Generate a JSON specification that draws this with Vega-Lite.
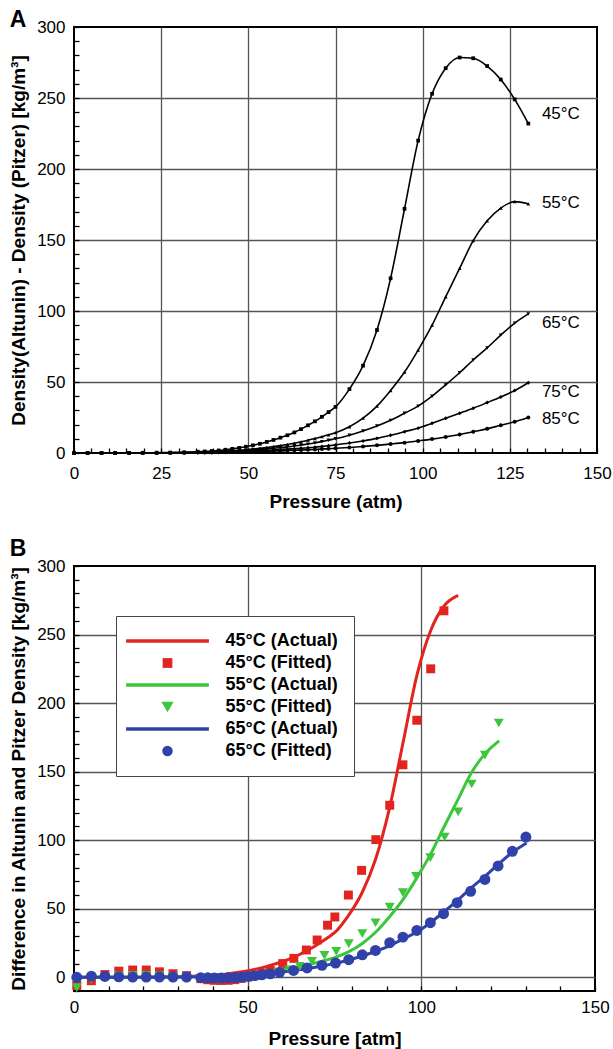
{
  "$schema": "https://vega.github.io/schema/vega-lite/v6.json",
  "padding": {"top": 8, "left": 8, "right": 0, "bottom": 0},
  "background": "white",
  "config": {
    "font": "Liberation Sans",
    "view": {"stroke": "black", "strokeWidth": 2},
    "axis": {
      "labelFont": "Liberation Sans", "labelFontSize": 17, "labelColor": "black",
      "titleFont": "Liberation Sans", "titleFontSize": 19, "titleFontWeight": "bold", "titleColor": "black",
      "domain": false, "tickColor": "black", "tickWidth": 1.3,
      "gridColor": "#555", "gridWidth": 1.3,
      "labelFlush": false, "labelOverlap": false
    },
    "title": {"fontSize": 23, "fontWeight": "bold", "anchor": "start", "frame": "bounds", "color": "black"}
  },
  "datasets": {
    "curves": [
      {"p": 0, "a45": 0, "a55": 0, "a65": 0, "a75": 0, "a85": 0},
      {"p": 3.9, "a45": 0, "a55": 0, "a65": 0, "a75": 0, "a85": 0},
      {"p": 7.9, "a45": 0, "a55": 0, "a65": 0, "a75": 0, "a85": 0},
      {"p": 11.8, "a45": 0, "a55": 0, "a65": 0, "a75": 0, "a85": 0},
      {"p": 15.8, "a45": 0.1, "a55": 0.1, "a65": 0, "a75": 0, "a85": 0},
      {"p": 19.7, "a45": 0.1, "a55": 0.1, "a65": 0.1, "a75": 0.1, "a85": 0.1},
      {"p": 23.7, "a45": 0.2, "a55": 0.1, "a65": 0.1, "a75": 0.1, "a85": 0.1},
      {"p": 27.6, "a45": 0.3, "a55": 0.2, "a65": 0.2, "a75": 0.1, "a85": 0.1},
      {"p": 31.6, "a45": 0.5, "a55": 0.3, "a65": 0.3, "a75": 0.2, "a85": 0.2},
      {"p": 35.5, "a45": 0.9, "a55": 0.5, "a65": 0.4, "a75": 0.3, "a85": 0.3},
      {"p": 37.5, "a45": 1.1, "a55": 0.6, "a65": 0.5, "a75": 0.4, "a85": 0.3},
      {"p": 39.5, "a45": 1.4, "a55": 0.8, "a65": 0.7, "a75": 0.5, "a85": 0.4},
      {"p": 41.5, "a45": 1.8, "a55": 1.0, "a65": 0.9, "a75": 0.6, "a85": 0.5},
      {"p": 43.4, "a45": 2.3, "a55": 1.2, "a65": 1.1, "a75": 0.8, "a85": 0.6},
      {"p": 45.4, "a45": 2.9, "a55": 1.5, "a65": 1.3, "a75": 1.0, "a85": 0.7},
      {"p": 47.4, "a45": 3.6, "a55": 1.9, "a65": 1.6, "a75": 1.1, "a85": 0.8},
      {"p": 49.3, "a45": 4.4, "a55": 2.3, "a65": 1.9, "a75": 1.3, "a85": 0.9},
      {"p": 51.3, "a45": 5.4, "a55": 2.8, "a65": 2.2, "a75": 1.5, "a85": 1.0},
      {"p": 53.3, "a45": 6.5, "a55": 3.3, "a65": 2.6, "a75": 1.7, "a85": 1.2},
      {"p": 55.3, "a45": 7.8, "a55": 3.9, "a65": 2.9, "a75": 1.9, "a85": 1.3},
      {"p": 57.2, "a45": 9.2, "a55": 4.5, "a65": 3.3, "a75": 2.1, "a85": 1.4},
      {"p": 59.2, "a45": 10.8, "a55": 5.2, "a65": 3.8, "a75": 2.4, "a85": 1.6},
      {"p": 61.2, "a45": 12.5, "a55": 6.0, "a65": 4.3, "a75": 2.7, "a85": 1.8},
      {"p": 63.2, "a45": 14.5, "a55": 6.9, "a65": 4.9, "a75": 3.0, "a85": 1.9},
      {"p": 65.1, "a45": 16.8, "a55": 7.9, "a65": 5.6, "a75": 3.3, "a85": 2.1},
      {"p": 67.1, "a45": 19.5, "a55": 9.0, "a65": 6.3, "a75": 3.7, "a85": 2.3},
      {"p": 69.1, "a45": 22.3, "a55": 10.2, "a65": 7.1, "a75": 4.1, "a85": 2.5},
      {"p": 71.1, "a45": 25.5, "a55": 11.5, "a65": 8.0, "a75": 4.6, "a85": 2.8},
      {"p": 73.0, "a45": 28.8, "a55": 12.8, "a65": 9.0, "a75": 5.1, "a85": 3.0},
      {"p": 75.0, "a45": 32.5, "a55": 14.3, "a65": 10.0, "a75": 5.7, "a85": 3.3},
      {"p": 79.0, "a45": 45, "a55": 18.5, "a65": 12.5, "a75": 7.0, "a85": 3.9},
      {"p": 82.9, "a45": 61.5, "a55": 24.5, "a65": 15.5, "a75": 8.5, "a85": 4.6},
      {"p": 86.9, "a45": 86.6, "a55": 33, "a65": 19, "a75": 10.3, "a85": 5.4},
      {"p": 90.8, "a45": 123, "a55": 44, "a65": 23, "a75": 12.5, "a85": 6.3},
      {"p": 94.8, "a45": 172, "a55": 57, "a65": 28, "a75": 15, "a85": 7.3},
      {"p": 98.7, "a45": 220, "a55": 72.5, "a65": 33, "a75": 17.5, "a85": 8.5},
      {"p": 102.7, "a45": 253, "a55": 90, "a65": 40, "a75": 21, "a85": 9.8},
      {"p": 106.6, "a45": 271, "a55": 110, "a65": 48, "a75": 24.5, "a85": 11.3},
      {"p": 110.6, "a45": 278.5, "a55": 130, "a65": 56.5, "a75": 28, "a85": 13},
      {"p": 114.5, "a45": 278, "a55": 149.5, "a65": 65.5, "a75": 31.5, "a85": 15},
      {"p": 118.5, "a45": 272.5, "a55": 163.5, "a65": 74, "a75": 35.5, "a85": 17},
      {"p": 122.4, "a45": 263, "a55": 172.5, "a65": 83, "a75": 39.5, "a85": 19.5},
      {"p": 126.4, "a45": 249, "a55": 177, "a65": 91.5, "a75": 44, "a85": 22},
      {"p": 130.3, "a45": 232, "a55": 175.5, "a65": 98, "a75": 49.5, "a85": 25}
    ],
    "labelsA": [
      {"p": 134.2, "v": 238.7, "t": "45°C"},
      {"p": 134.2, "v": 175.8, "t": "55°C"},
      {"p": 134.2, "v": 91.3, "t": "65°C"},
      {"p": 134.2, "v": 42.7, "t": "75°C"},
      {"p": 134.2, "v": 23.7, "t": "85°C"}
    ],
    "fitted": [
      {"s": "f45", "p": 0.8, "v": -6}, {"s": "f45", "p": 5, "v": -2.5}, {"s": "f45", "p": 8.9, "v": 2},
      {"s": "f45", "p": 12.9, "v": 4.5}, {"s": "f45", "p": 16.9, "v": 5.3}, {"s": "f45", "p": 20.8, "v": 5.3},
      {"s": "f45", "p": 24.6, "v": 4}, {"s": "f45", "p": 28.5, "v": 2.6}, {"s": "f45", "p": 32.4, "v": 1.2},
      {"s": "f45", "p": 36.5, "v": -1}, {"s": "f45", "p": 38.5, "v": -1.8}, {"s": "f45", "p": 40.4, "v": -2.2},
      {"s": "f45", "p": 42.4, "v": -2.3}, {"s": "f45", "p": 44.4, "v": -2.2}, {"s": "f45", "p": 46.3, "v": -1.7},
      {"s": "f45", "p": 48.2, "v": -0.8}, {"s": "f45", "p": 50.2, "v": 0.3}, {"s": "f45", "p": 52.1, "v": 1.5},
      {"s": "f45", "p": 54.1, "v": 3}, {"s": "f45", "p": 56.5, "v": 5}, {"s": "f45", "p": 60.1, "v": 10},
      {"s": "f45", "p": 63.3, "v": 13.8}, {"s": "f45", "p": 66.9, "v": 19.9}, {"s": "f45", "p": 70, "v": 27.2},
      {"s": "f45", "p": 73, "v": 38}, {"s": "f45", "p": 75.1, "v": 44}, {"s": "f45", "p": 79, "v": 60},
      {"s": "f45", "p": 82.8, "v": 78}, {"s": "f45", "p": 86.9, "v": 100.4}, {"s": "f45", "p": 90.9, "v": 125.5},
      {"s": "f45", "p": 94.7, "v": 155}, {"s": "f45", "p": 98.7, "v": 187.5}, {"s": "f45", "p": 102.7, "v": 225},
      {"s": "f45", "p": 106.5, "v": 267.3},
      {"s": "f55", "p": 0.8, "v": -7.5}, {"s": "f55", "p": 5, "v": -1.5}, {"s": "f55", "p": 8.9, "v": 0},
      {"s": "f55", "p": 12.9, "v": 1}, {"s": "f55", "p": 16.9, "v": 1.5}, {"s": "f55", "p": 20.8, "v": 1.5},
      {"s": "f55", "p": 24.6, "v": 1}, {"s": "f55", "p": 28.5, "v": 0.5}, {"s": "f55", "p": 32.4, "v": 0},
      {"s": "f55", "p": 36.5, "v": -1}, {"s": "f55", "p": 38.5, "v": -1.2}, {"s": "f55", "p": 40.4, "v": -1.4},
      {"s": "f55", "p": 42.4, "v": -1.4}, {"s": "f55", "p": 44.4, "v": -1.3}, {"s": "f55", "p": 46.3, "v": -1},
      {"s": "f55", "p": 48.2, "v": -0.6}, {"s": "f55", "p": 50.2, "v": 0}, {"s": "f55", "p": 52.1, "v": 0.6},
      {"s": "f55", "p": 54.1, "v": 1.3}, {"s": "f55", "p": 56.5, "v": 2.5}, {"s": "f55", "p": 59.2, "v": 4},
      {"s": "f55", "p": 62, "v": 5.5}, {"s": "f55", "p": 65, "v": 8}, {"s": "f55", "p": 68.5, "v": 11.6},
      {"s": "f55", "p": 72.1, "v": 16}, {"s": "f55", "p": 75.5, "v": 18.9}, {"s": "f55", "p": 79.1, "v": 24.5},
      {"s": "f55", "p": 83, "v": 31.8}, {"s": "f55", "p": 86.8, "v": 39.8}, {"s": "f55", "p": 90.9, "v": 51.2},
      {"s": "f55", "p": 94.7, "v": 61.7}, {"s": "f55", "p": 98.5, "v": 73.6}, {"s": "f55", "p": 102.6, "v": 87.3},
      {"s": "f55", "p": 106.7, "v": 102.3}, {"s": "f55", "p": 110.6, "v": 120.6}, {"s": "f55", "p": 114.5, "v": 141},
      {"s": "f55", "p": 118.3, "v": 162}, {"s": "f55", "p": 122.3, "v": 185.5},
      {"s": "f65", "p": 0.8, "v": 0}, {"s": "f65", "p": 5, "v": 0.8}, {"s": "f65", "p": 8.9, "v": 0.6},
      {"s": "f65", "p": 12.9, "v": 0.3}, {"s": "f65", "p": 16.9, "v": 0.2}, {"s": "f65", "p": 20.8, "v": 0.2},
      {"s": "f65", "p": 24.6, "v": 0.2}, {"s": "f65", "p": 28.5, "v": 0.2}, {"s": "f65", "p": 32.4, "v": 0.2},
      {"s": "f65", "p": 36.5, "v": -0.3}, {"s": "f65", "p": 38.5, "v": -0.4}, {"s": "f65", "p": 40.4, "v": -0.5},
      {"s": "f65", "p": 42.4, "v": -0.5}, {"s": "f65", "p": 44.4, "v": -0.4}, {"s": "f65", "p": 46.3, "v": -0.2},
      {"s": "f65", "p": 48.2, "v": 0.2}, {"s": "f65", "p": 50.2, "v": 0.6}, {"s": "f65", "p": 52.1, "v": 1.2},
      {"s": "f65", "p": 54.1, "v": 1.8}, {"s": "f65", "p": 56.5, "v": 2.5}, {"s": "f65", "p": 59.2, "v": 3.6},
      {"s": "f65", "p": 63.2, "v": 5}, {"s": "f65", "p": 67.1, "v": 6.8}, {"s": "f65", "p": 71.4, "v": 8.7},
      {"s": "f65", "p": 75.3, "v": 10.4}, {"s": "f65", "p": 79.1, "v": 12.8}, {"s": "f65", "p": 83, "v": 16.4},
      {"s": "f65", "p": 86.8, "v": 19.6}, {"s": "f65", "p": 90.9, "v": 25.2}, {"s": "f65", "p": 94.7, "v": 29.3},
      {"s": "f65", "p": 98.7, "v": 34.2}, {"s": "f65", "p": 102.6, "v": 39.8}, {"s": "f65", "p": 106.4, "v": 46.4},
      {"s": "f65", "p": 110.3, "v": 54.4}, {"s": "f65", "p": 114.2, "v": 62.7}, {"s": "f65", "p": 118.3, "v": 71.4},
      {"s": "f65", "p": 122.1, "v": 81.2}, {"s": "f65", "p": 126.2, "v": 91.9}, {"s": "f65", "p": 130.1, "v": 102.3}
    ]
  },
  "resolve": {"scale": {"color": "independent", "shape": "independent", "size": "independent"}},
  "spacing": 25,
  "vconcat": [
    {
      "title": {"text": "A", "offset": -14},
      "width": 523,
      "height": 426,
      "encoding": {
        "x": {
          "field": "p", "type": "quantitative",
          "scale": {"domain": [0, 150], "nice": false, "zero": false},
          "axis": {
            "title": "Pressure (atm)",
            "values": [0,5,10,15,20,25,30,35,40,45,50,55,60,65,70,75,80,85,90,95,100,105,110,115,120,125,130,135,140,145,150],
            "labelExpr": "datum.value % 25 === 0 ? datum.label : ''",
            "gridOpacity": {"condition": {"test": "datum.value % 25 === 0 && datum.value > 0 && datum.value < 150", "value": 1}, "value": 0},
            "tickSize": -5, "labelPadding": 17, "titlePadding": 11
          }
        },
        "y": {
          "field": "v", "type": "quantitative",
          "scale": {"domain": [0, 300], "nice": false, "zero": false},
          "axis": {
            "title": "Density(Altunin) - Density (Pitzer) [kg/m³]",
            "values": [0,10,20,30,40,50,60,70,80,90,100,110,120,130,140,150,160,170,180,190,200,210,220,230,240,250,260,270,280,290,300],
            "labelExpr": "datum.value % 50 === 0 ? datum.label : ''",
            "gridOpacity": {"condition": {"test": "datum.value % 50 === 0 && datum.value > 0 && datum.value < 300", "value": 1}, "value": 0},
            "tickSize": -5, "labelPadding": 14, "titlePadding": 8
          }
        }
      },
      "layer": [
        {
          "data": {"name": "curves"},
          "transform": [{"fold": ["a45", "a55", "a65", "a75", "a85"], "as": ["s", "v"]}],
          "mark": {"type": "line", "color": "black", "strokeWidth": 1.6, "interpolate": "monotone"},
          "encoding": {"detail": {"field": "s", "type": "nominal"}}
        },
        {
          "data": {"name": "curves"},
          "transform": [{"fold": ["a45", "a55", "a65", "a75", "a85"], "as": ["s", "v"]}],
          "mark": {"type": "point", "filled": true, "color": "black", "opacity": 1},
          "encoding": {
            "shape": {"field": "s", "type": "nominal", "scale": {"domain": ["a45", "a55", "a65", "a75", "a85"], "range": ["square", "triangle-up", "triangle-down", "diamond", "circle"]}, "legend": null},
            "size": {"field": "s", "type": "nominal", "scale": {"domain": ["a45", "a55", "a65", "a75", "a85"], "range": [14, 16, 16, 30, 38]}, "legend": null}
          }
        },
        {
          "data": {"name": "labelsA"},
          "mark": {"type": "text", "align": "left", "baseline": "middle", "fontSize": 17, "font": "Liberation Sans", "color": "black"},
          "encoding": {"text": {"field": "t", "type": "nominal"}}
        }
      ]
    },
    {
      "title": {"text": "B", "offset": -4},
      "width": 521,
      "height": 425,
      "encoding": {
        "x": {
          "field": "p", "type": "quantitative",
          "scale": {"domain": [0, 150], "nice": false, "zero": false},
          "axis": {
            "title": "Pressure [atm]",
            "values": [0,10,20,30,40,50,60,70,80,90,100,110,120,130,140,150],
            "labelExpr": "datum.value % 50 === 0 ? datum.label : ''",
            "gridOpacity": {"condition": {"test": "datum.value % 50 === 0 && datum.value > 0 && datum.value < 150", "value": 1}, "value": 0},
            "tickSize": -5, "labelPadding": 13, "titlePadding": 14
          }
        },
        "y": {
          "field": "v", "type": "quantitative",
          "scale": {"domain": [-10, 300], "nice": false, "zero": false},
          "axis": {
            "title": "Difference in Altunin and Pitzer Density [kg/m³]",
            "values": [-10,0,10,20,30,40,50,60,70,80,90,100,110,120,130,140,150,160,170,180,190,200,210,220,230,240,250,260,270,280,290,300],
            "labelExpr": "datum.value % 50 === 0 ? datum.label : ''",
            "gridOpacity": {"condition": {"test": "datum.value % 50 === 0 && datum.value < 300", "value": 1}, "value": 0},
            "tickSize": -5, "labelPadding": 14, "titlePadding": 8
          }
        }
      },
      "layer": [
        {
          "data": {"name": "curves"},
          "transform": [
            {"fold": ["a45", "a55", "a65"], "as": ["s", "v"]},
            {"filter": "(datum.s === 'a45' && datum.p <= 111) || (datum.s === 'a55' && datum.p <= 123) || datum.s === 'a65'"}
          ],
          "mark": {"type": "line", "strokeWidth": 3, "interpolate": "monotone"},
          "encoding": {
            "color": {
              "field": "s", "type": "nominal",
              "scale": {"domain": ["a45", "f45", "a55", "f55", "a65", "f65"], "range": ["#e3231e", "#e3231e", "#3cc63c", "#3cc63c", "#3042aa", "#3042aa"]},
              "legend": {
                "title": null, "orient": "none", "legendX": 42, "legendY": 50,
                "strokeColor": "#444", "fillColor": "white", "padding": 16,
                "labelFont": "Liberation Sans", "labelFontSize": 18, "labelFontWeight": "bold", "labelColor": "black",
                "labelExpr": "{'a45': '45°C (Actual)', 'f45': '45°C (Fitted)', 'a55': '55°C (Actual)', 'f55': '55°C (Fitted)', 'a65': '65°C (Actual)', 'f65': '65°C (Fitted)'}[datum.label]",
                "symbolSize": 144, "symbolOffset": 26.5, "labelOffset": 49, "rowPadding": 4,
                "encode": {
                  "symbols": {
                    "update": {
                      "shape": {"signal": "test(/^a/, datum.value) ? 'M-6.9,0H6.9' : test(/45/, datum.value) ? 'square' : test(/55/, datum.value) ? 'triangle-down' : 'circle'"},
                      "size": {"signal": "test(/^a/, datum.value) ? 144 : test(/45/, datum.value) ? 95 : test(/55/, datum.value) ? 150 : 110"},
                      "stroke": {"signal": "test(/45/, datum.value) ? '#e3231e' : test(/55/, datum.value) ? '#3cc63c' : '#3042aa'"},
                      "fill": {"signal": "test(/^a/, datum.value) ? 'transparent' : test(/45/, datum.value) ? '#e3231e' : test(/55/, datum.value) ? '#3cc63c' : '#3042aa'"},
                      "strokeWidth": {"signal": "test(/^a/, datum.value) ? 3.5 : 0"},
                      "opacity": {"value": 1}
                    }
                  }
                }
              }
            }
          }
        },
        {
          "data": {"name": "fitted"},
          "mark": {"type": "point", "filled": true, "opacity": 1},
          "encoding": {
            "color": {"field": "s", "type": "nominal", "scale": {"domain": ["a45", "f45", "a55", "f55", "a65", "f65"], "range": ["#e3231e", "#e3231e", "#3cc63c", "#3cc63c", "#3042aa", "#3042aa"]}},
            "shape": {"field": "s", "type": "nominal", "scale": {"domain": ["f45", "f55", "f65"], "range": ["square", "triangle-down", "circle"]}, "legend": null},
            "size": {"field": "s", "type": "nominal", "scale": {"domain": ["f45", "f55", "f65"], "range": [80, 120, 85]}, "legend": null}
          }
        }
      ]
    }
  ]
}
